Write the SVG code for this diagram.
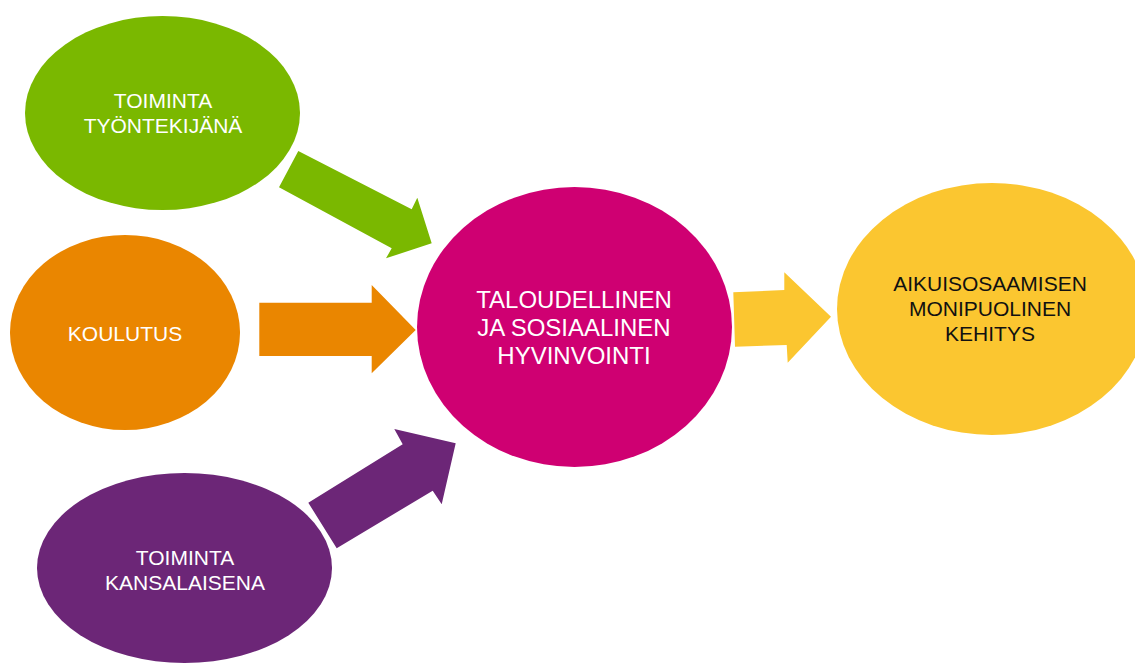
<svg xmlns="http://www.w3.org/2000/svg" width="1135" height="663" viewBox="0 0 1135 663">
<style>
text{font-family:"Liberation Sans",Arial,sans-serif;font-size:21px;text-anchor:middle;fill:#fff}
.dark{fill:#111}
.big{font-size:24px}
</style>
<rect width="1135" height="663" fill="#fff"/>
<g id="connectors">
<polygon fill="#7AB800" points="298.3,151 279,187.3 391.7,248.3 386,258.3 431.7,243.3 417.3,197.7 411.7,209.3"/>
<polygon fill="#EA8600" points="259.3,302.7 371.7,302.7 371.7,285 415.7,330 371.7,373.3 371.7,356 259.3,356"/>
<polygon fill="#6C2677" points="336.7,548.3 308.3,502.7 402.7,444.3 394.3,429 455.7,443.3 441.7,504.3 432.7,490.7"/>
<polygon fill="#FBC630" points="733.3,292.3 784.3,290 784.3,272.3 831,316.7 787.7,362.7 786.7,345 735,346.7"/>
</g>
<g id="n-tyontekija">
<ellipse cx="162.5" cy="113" rx="137.5" ry="97" fill="#7AB800"/>
<text x="163" y="108">TOIMINTA</text>
<text x="163" y="133">TYÖNTEKIJÄNÄ</text>
</g>
<g id="n-koulutus">
<ellipse cx="125" cy="332.5" rx="115" ry="97.5" fill="#EA8600"/>
<text x="125" y="341">KOULUTUS</text>
</g>
<g id="n-kansalainen">
<ellipse cx="184.5" cy="568" rx="147.5" ry="95" fill="#6C2677"/>
<text x="185" y="565">TOIMINTA</text>
<text x="185" y="590">KANSALAISENA</text>
</g>
<g id="n-hyvinvointi">
<ellipse cx="574.5" cy="327" rx="157.5" ry="140" fill="#CF0072"/>
<text class="big" x="574" y="308">TALOUDELLINEN</text>
<text class="big" x="574" y="336">JA SOSIAALINEN</text>
<text class="big" x="574" y="364">HYVINVOINTI</text>
</g>
<g id="n-aikuisosaaminen">
<ellipse cx="992" cy="309" rx="155" ry="126" fill="#FBC630"/>
<text class="dark" x="990" y="291">AIKUISOSAAMISEN</text>
<text class="dark" x="990" y="316">MONIPUOLINEN</text>
<text class="dark" x="990" y="341">KEHITYS</text>
</g>
</svg>
